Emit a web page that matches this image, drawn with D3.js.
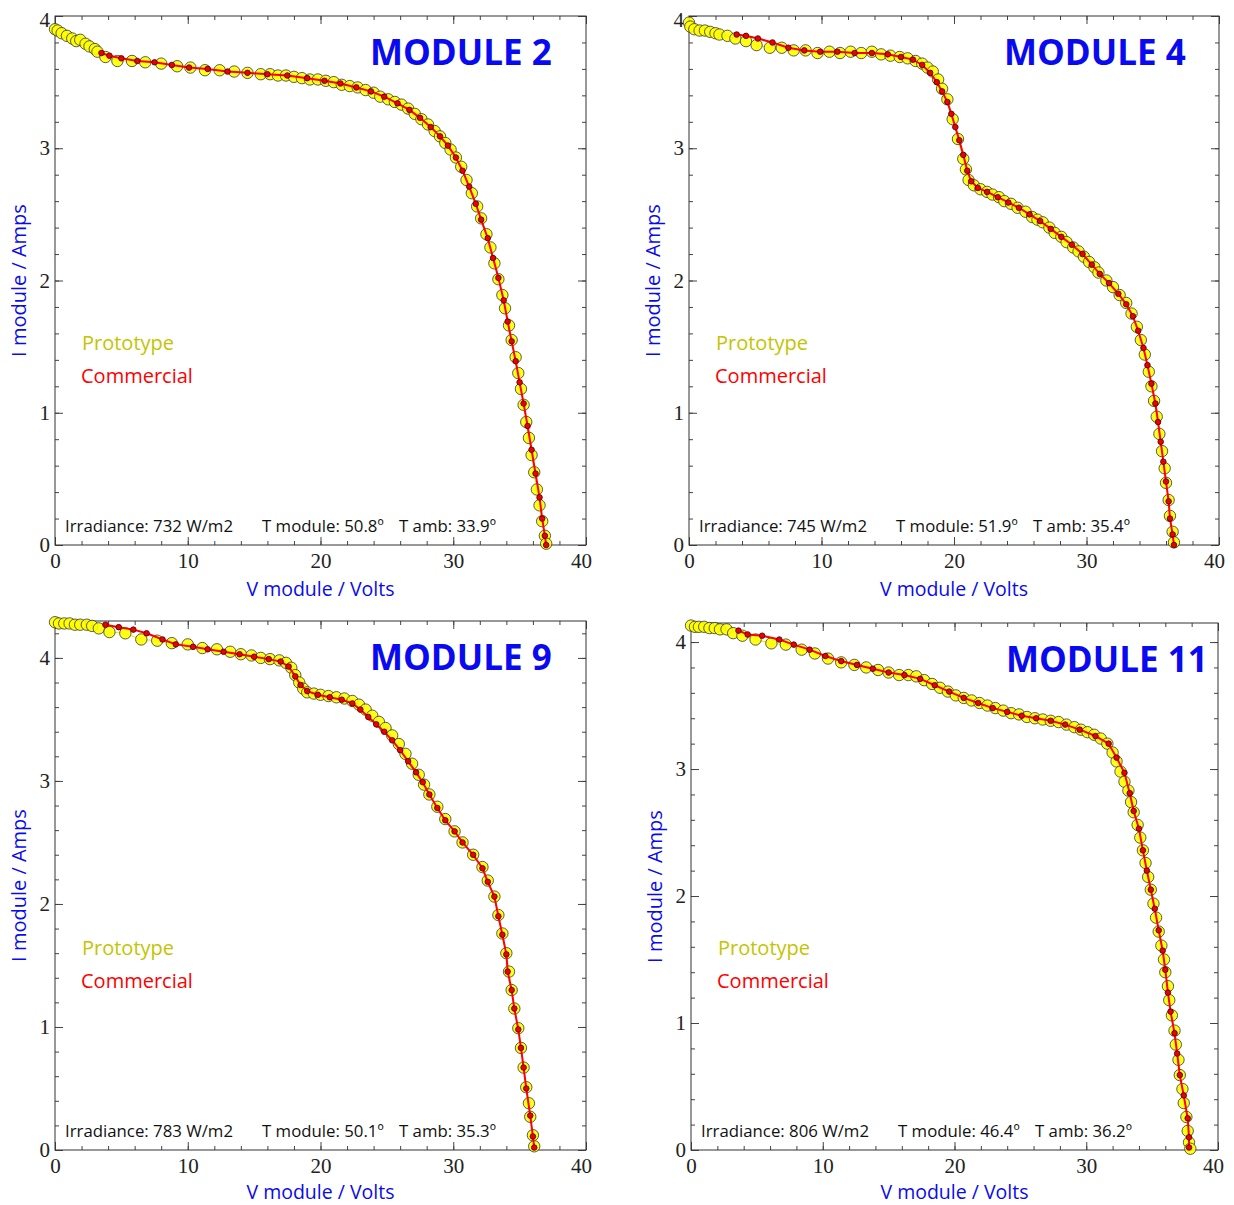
<!DOCTYPE html>
<html><head><meta charset="utf-8">
<script src="https://cdn.jsdelivr.net/npm/d3@7"></script>
<style>
html,body{margin:0;padding:0;background:#fff;}
svg{display:block;}
</style></head>
<body>
<svg id="chart" width="1234" height="1205"></svg>
<script>
// ---------------- DATA ----------------
const moduleTitles = ["MODULE 2", "MODULE 4", "MODULE 9", "MODULE 11"];
const yDomainMax = [4.0, 4.0, 4.3, 4.15];
const xDomain = [0, 40];
const xMajorTicks = [0, 10, 20, 30, 40];
const legendLabels = ["Prototype", "Commercial"];
const xAxisTitle = "V module / Volts";
const yAxisTitle = "I module / Amps";

const m2Info = ["Irradiance: 732 W/m2", "T module: 50.8º", "T amb: 33.9º"];
const m4Info = ["Irradiance: 745 W/m2", "T module: 51.9º", "T amb: 35.4º"];
const m9Info = ["Irradiance: 783 W/m2", "T module: 50.1º", "T amb: 35.3º"];
const m11Info = ["Irradiance: 806 W/m2", "T module: 46.4º", "T amb: 36.2º"];

const m2Prototype = [[0.0,3.90],[0.2,3.89],[0.5,3.87],[0.9,3.85],[1.3,3.83],[1.6,3.81],[1.9,3.82],[2.3,3.79],[2.6,3.77],[3.0,3.75],[3.2,3.73],[3.8,3.69],[4.7,3.66],[5.8,3.66],[6.8,3.65],[8.0,3.64],[9.2,3.62],[10.2,3.61],[11.3,3.59],[12.4,3.59],[13.5,3.58],[14.5,3.57],[15.5,3.56],[16.2,3.56],[16.8,3.55],[17.4,3.55],[18.0,3.54],[18.6,3.53],[19.2,3.52],[19.8,3.52],[20.4,3.51],[21.0,3.50],[21.6,3.48],[22.2,3.47],[22.8,3.46],[23.4,3.44],[24.0,3.42],[24.5,3.39],[25.1,3.37],[25.6,3.35],[26.1,3.33],[26.6,3.30],[27.1,3.26],[27.6,3.22],[28.1,3.18],[28.6,3.13],[29.0,3.09],[29.4,3.04],[29.8,2.99],[30.2,2.93],[30.6,2.86],[31.0,2.76],[31.4,2.66],[31.8,2.56],[32.1,2.47],[32.5,2.35],[32.8,2.25],[33.1,2.13],[33.4,2.01],[33.7,1.89],[33.9,1.79],[34.2,1.66],[34.4,1.55],[34.7,1.42],[34.9,1.30],[35.1,1.18],[35.3,1.06],[35.5,0.93],[35.7,0.81],[35.9,0.68],[36.1,0.55],[36.3,0.42],[36.5,0.30],[36.7,0.18],[36.9,0.07],[37.0,0.01]];
const m2Commercial = [[3.5,3.72],[4.1,3.70],[5.0,3.68],[6.2,3.66],[7.5,3.65],[8.8,3.63],[10.1,3.61],[11.5,3.60],[13.0,3.58],[14.5,3.57],[16.0,3.56],[17.5,3.55],[19.0,3.53],[20.3,3.51],[21.5,3.49],[22.7,3.46],[23.8,3.43],[24.8,3.39],[25.8,3.34],[26.7,3.29],[27.5,3.23],[28.3,3.16],[29.0,3.09],[29.6,3.02],[30.2,2.93],[30.7,2.83],[31.2,2.71],[31.7,2.58],[32.1,2.46],[32.6,2.32],[33.0,2.17],[33.4,2.02],[33.8,1.85],[34.1,1.69],[34.4,1.54],[34.7,1.39],[35.0,1.23],[35.3,1.07],[35.6,0.90],[35.9,0.72],[36.2,0.54],[36.5,0.36],[36.7,0.20],[36.9,0.07],[37.0,0.0]];

const m4Prototype = [[0.0,3.95],[0.1,3.92],[0.4,3.90],[0.8,3.89],[1.2,3.89],[1.6,3.88],[2.0,3.87],[2.3,3.86],[2.9,3.85],[3.5,3.83],[4.3,3.81],[5.1,3.78],[6.1,3.76],[7.0,3.76],[7.9,3.74],[8.8,3.74],[9.7,3.72],[10.6,3.73],[11.4,3.72],[12.2,3.73],[13.0,3.72],[13.8,3.73],[14.5,3.71],[15.2,3.70],[15.9,3.69],[16.5,3.68],[17.1,3.66],[17.6,3.64],[18.0,3.61],[18.4,3.58],[18.8,3.52],[19.1,3.45],[19.5,3.37],[19.9,3.22],[20.3,3.07],[20.7,2.92],[20.9,2.84],[21.1,2.76],[21.5,2.72],[22.0,2.69],[22.5,2.67],[22.9,2.65],[23.4,2.63],[23.8,2.60],[24.3,2.58],[24.8,2.55],[25.4,2.52],[25.9,2.48],[26.3,2.46],[26.7,2.44],[27.2,2.40],[27.6,2.36],[28.1,2.33],[28.5,2.29],[29.0,2.25],[29.4,2.22],[29.8,2.18],[30.2,2.14],[30.6,2.10],[30.9,2.06],[31.5,2.00],[32.0,1.95],[32.5,1.89],[33.0,1.83],[33.4,1.75],[33.8,1.65],[34.1,1.55],[34.4,1.44],[34.7,1.31],[34.9,1.20],[35.1,1.09],[35.3,0.97],[35.5,0.84],[35.7,0.71],[35.9,0.58],[36.0,0.47],[36.2,0.34],[36.3,0.22],[36.5,0.10],[36.6,0.02]];
const m4Commercial = [[3.6,3.86],[4.3,3.85],[5.2,3.83],[6.3,3.80],[7.5,3.76],[8.7,3.74],[9.9,3.73],[11.2,3.73],[12.5,3.72],[13.8,3.72],[15.0,3.71],[16.0,3.69],[16.9,3.67],[17.6,3.63],[18.2,3.57],[18.7,3.50],[19.1,3.43],[19.5,3.35],[19.8,3.26],[20.1,3.16],[20.4,3.06],[20.7,2.95],[21.0,2.83],[21.3,2.75],[21.8,2.70],[22.5,2.67],[23.3,2.63],[24.1,2.59],[24.9,2.55],[25.7,2.50],[26.5,2.45],[27.3,2.39],[28.1,2.33],[28.9,2.27],[29.7,2.20],[30.4,2.12],[31.0,2.05],[31.7,1.98],[32.4,1.90],[33.0,1.82],[33.5,1.73],[33.9,1.62],[34.3,1.49],[34.6,1.36],[34.9,1.22],[35.2,1.07],[35.4,0.93],[35.6,0.78],[35.8,0.63],[36.0,0.48],[36.2,0.33],[36.3,0.20],[36.5,0.08],[36.6,0.0]];

const m9Prototype = [[0.0,4.29],[0.3,4.28],[0.7,4.28],[1.1,4.28],[1.5,4.27],[1.9,4.27],[2.4,4.27],[2.8,4.26],[3.3,4.24],[4.1,4.21],[5.3,4.20],[6.5,4.15],[7.7,4.14],[8.8,4.12],[10.0,4.11],[11.1,4.08],[12.2,4.07],[13.2,4.05],[14.0,4.03],[14.8,4.02],[15.5,4.00],[16.2,3.99],[16.9,3.98],[17.4,3.96],[17.8,3.92],[18.1,3.86],[18.4,3.80],[18.7,3.75],[19.0,3.72],[19.5,3.71],[20.0,3.70],[20.6,3.69],[21.2,3.68],[21.8,3.67],[22.4,3.65],[22.9,3.62],[23.4,3.58],[23.9,3.53],[24.4,3.48],[24.9,3.43],[25.4,3.37],[25.9,3.30],[26.4,3.22],[26.9,3.14],[27.4,3.05],[27.8,2.97],[28.2,2.89],[28.8,2.79],[29.4,2.69],[30.1,2.59],[30.7,2.50],[31.5,2.40],[32.2,2.30],[32.6,2.19],[33.1,2.06],[33.4,1.91],[33.7,1.76],[34.0,1.60],[34.2,1.45],[34.4,1.30],[34.6,1.15],[34.9,0.99],[35.1,0.83],[35.3,0.67],[35.5,0.51],[35.7,0.38],[35.8,0.27],[36.0,0.12],[36.1,0.03]];
const m9Commercial = [[3.8,4.27],[4.8,4.25],[5.9,4.23],[6.9,4.20],[8.1,4.15],[9.1,4.11],[10.4,4.09],[11.5,4.07],[12.7,4.05],[13.9,4.03],[15.0,4.01],[16.1,3.99],[17.0,3.97],[17.6,3.93],[18.1,3.85],[18.5,3.78],[19.0,3.73],[19.8,3.70],[20.7,3.68],[21.6,3.66],[22.4,3.63],[23.0,3.58],[23.6,3.52],[24.2,3.46],[24.8,3.40],[25.4,3.33],[26.0,3.25],[26.6,3.16],[27.2,3.07],[27.7,2.99],[28.2,2.89],[28.8,2.78],[29.4,2.68],[30.1,2.59],[30.7,2.50],[31.5,2.40],[32.2,2.29],[32.6,2.18],[33.1,2.06],[33.4,1.90],[33.7,1.75],[34.0,1.59],[34.1,1.45],[34.4,1.30],[34.6,1.15],[34.9,0.98],[35.1,0.83],[35.3,0.67],[35.5,0.50],[35.8,0.28],[36.0,0.11],[36.1,0.02]];

const m11Prototype = [[0.0,4.13],[0.3,4.12],[0.6,4.12],[1.0,4.12],[1.4,4.11],[1.8,4.11],[2.2,4.10],[2.7,4.10],[3.2,4.07],[3.9,4.05],[4.9,4.02],[6.1,3.99],[7.2,3.98],[8.4,3.94],[9.4,3.91],[10.4,3.87],[11.4,3.84],[12.4,3.82],[13.3,3.80],[14.2,3.78],[15.0,3.76],[15.8,3.74],[16.5,3.74],[17.1,3.73],[17.7,3.70],[18.3,3.67],[18.9,3.64],[19.5,3.61],[20.1,3.58],[20.7,3.56],[21.3,3.54],[21.9,3.52],[22.5,3.50],[23.1,3.48],[23.7,3.46],[24.3,3.44],[24.9,3.43],[25.5,3.41],[26.1,3.40],[26.7,3.39],[27.3,3.38],[27.9,3.37],[28.5,3.35],[29.1,3.33],[29.6,3.31],[30.1,3.29],[30.6,3.27],[31.1,3.24],[31.6,3.20],[32.0,3.13],[32.3,3.06],[32.6,2.98],[32.9,2.90],[33.2,2.83],[33.4,2.74],[33.6,2.66],[33.9,2.56],[34.1,2.46],[34.3,2.36],[34.5,2.26],[34.7,2.15],[34.9,2.05],[35.1,1.94],[35.3,1.83],[35.5,1.72],[35.7,1.61],[35.9,1.50],[36.0,1.40],[36.2,1.29],[36.3,1.18],[36.5,1.06],[36.7,0.94],[36.8,0.83],[37.0,0.71],[37.1,0.59],[37.3,0.48],[37.4,0.37],[37.6,0.26],[37.7,0.15],[37.8,0.06],[37.9,0.01]];
const m11Commercial = [[3.6,4.09],[4.3,4.06],[5.4,4.05],[6.7,4.02],[7.8,3.98],[9.0,3.94],[10.2,3.89],[11.4,3.85],[12.6,3.82],[13.8,3.79],[15.0,3.76],[16.2,3.74],[17.4,3.71],[18.5,3.66],[19.6,3.61],[20.7,3.56],[21.8,3.52],[22.9,3.48],[24.0,3.45],[25.1,3.42],[26.2,3.40],[27.3,3.38],[28.4,3.35],[29.5,3.31],[30.7,3.26],[31.7,3.20],[32.3,3.09],[32.9,2.97],[33.3,2.81],[33.6,2.67],[34.0,2.53],[34.3,2.36],[34.6,2.20],[34.9,2.05],[35.2,1.90],[35.5,1.73],[35.8,1.57],[36.0,1.42],[36.2,1.24],[36.4,1.09],[36.7,0.92],[36.9,0.76],[37.1,0.59],[37.4,0.43],[37.7,0.25],[37.8,0.10],[37.8,0.02]];

// ---------------- LAYOUT ----------------
const panels = [
  {title: moduleTitles[0], yMax: yDomainMax[0], proto: m2Prototype, comm: m2Commercial, info: m2Info, left: 55, right: 586, top: 16, bottom: 545, xTitleDy: 51},
  {title: moduleTitles[1], yMax: yDomainMax[1], proto: m4Prototype, comm: m4Commercial, info: m4Info, left: 689, right: 1219, top: 16, bottom: 545, xTitleDy: 51},
  {title: moduleTitles[2], yMax: yDomainMax[2], proto: m9Prototype, comm: m9Commercial, info: m9Info, left: 55, right: 586, top: 621, bottom: 1150, xTitleDy: 49},
  {title: moduleTitles[3], yMax: yDomainMax[3], proto: m11Prototype, comm: m11Commercial, info: m11Info, left: 691, right: 1218, top: 623, bottom: 1150, xTitleDy: 49}
];

const BLUE = "#0a0af0";
const SANS = "'Open Sans', 'Noto Sans', sans-serif";
const SERIF = "'Liberation Serif', 'DejaVu Serif', serif";

const svg = d3.select("#chart");

panels.forEach(p => {
  const g = svg.append("g");
  const x = d3.scaleLinear().domain(xDomain).range([p.left, p.right]);
  const y = d3.scaleLinear().domain([0, p.yMax]).range([p.bottom, p.top]);

  const xMinor = d3.range(0, 40.001, 2);
  const yMinor = d3.range(0, p.yMax + 1e-9, 0.2);
  const yMajor = d3.range(0, p.yMax + 1e-9, 1);

  function styleAxis(sel) {
    sel.select(".domain").remove();
    sel.selectAll(".tick line").attr("stroke", "#444").attr("stroke-width", 1);
  }
  // minor ticks
  g.append("g").attr("transform", `translate(0,${p.bottom})`)
    .call(d3.axisBottom(x).tickValues(xMinor).tickSize(-4).tickFormat(""))
    .call(styleAxis);
  g.append("g").attr("transform", `translate(0,${p.top})`)
    .call(d3.axisTop(x).tickValues(xMinor).tickSize(-4).tickFormat(""))
    .call(styleAxis);
  g.append("g").attr("transform", `translate(${p.left},0)`)
    .call(d3.axisLeft(y).tickValues(yMinor).tickSize(-4).tickFormat(""))
    .call(styleAxis);
  g.append("g").attr("transform", `translate(${p.right},0)`)
    .call(d3.axisRight(y).tickValues(yMinor).tickSize(-4).tickFormat(""))
    .call(styleAxis);
  // major ticks
  const xb = g.append("g").attr("transform", `translate(0,${p.bottom})`)
    .call(d3.axisBottom(x).tickValues(xMajorTicks).tickSize(-8).tickPadding(8).tickFormat(d3.format("d")))
    .call(styleAxis);
  g.append("g").attr("transform", `translate(0,${p.top})`)
    .call(d3.axisTop(x).tickValues(xMajorTicks).tickSize(-8).tickFormat(""))
    .call(styleAxis);
  const yl = g.append("g").attr("transform", `translate(${p.left},0)`)
    .call(d3.axisLeft(y).tickValues(yMajor).tickSize(-8).tickPadding(5).tickFormat(d3.format("d")))
    .call(styleAxis);
  g.append("g").attr("transform", `translate(${p.right},0)`)
    .call(d3.axisRight(y).tickValues(yMajor).tickSize(-8).tickFormat(""))
    .call(styleAxis);
  [xb, yl].forEach(a => a.selectAll("text")
    .attr("font-family", SERIF).attr("font-size", 21).attr("fill", "#222"));
  // nudge edge labels inward as in the original
  xb.selectAll(".tick text").filter(d => d === xDomain[1]).attr("dx", "-5");
  yl.selectAll(".tick text").filter(d => Math.abs(y(d) - p.top) < 6).attr("dy", "0.5em");

  // frame
  g.append("rect").attr("x", p.left).attr("y", p.top)
    .attr("width", p.right - p.left).attr("height", p.bottom - p.top)
    .attr("fill", "none").attr("stroke", "#333").attr("stroke-width", 1);

  const line = d3.line().x(d => x(d[0])).y(d => y(d[1]));

  // prototype series
  g.append("path").datum(p.proto).attr("d", line)
    .attr("fill", "none").attr("stroke", "#e6e600").attr("stroke-width", 1);
  g.append("g").selectAll("circle").data(p.proto).join("circle")
    .attr("cx", d => x(d[0])).attr("cy", d => y(d[1])).attr("r", 5.7)
    .attr("fill", "#ffff00").attr("fill-opacity", 0.9)
    .attr("stroke", "#333").attr("stroke-width", 0.8);

  // commercial series
  g.append("path").datum(p.comm).attr("d", line)
    .attr("fill", "none").attr("stroke", "#ff0000").attr("stroke-width", 2);
  g.append("g").selectAll("circle").data(p.comm).join("circle")
    .attr("cx", d => x(d[0])).attr("cy", d => y(d[1])).attr("r", 2.8)
    .attr("fill", "#ee0000").attr("stroke", "#400").attr("stroke-width", 0.8);

  // title
  g.append("text").attr("x", p.left + 315).attr("y", p.top + 49)
    .attr("font-family", SANS).attr("font-weight", 700).attr("font-size", 35)
    .attr("fill", BLUE).text(p.title);

  // legend
  g.append("text").attr("x", p.left + 27).attr("y", p.bottom - 195)
    .attr("font-family", SANS).attr("font-weight", 500).attr("font-size", 20).attr("fill", "#c4c400").text(legendLabels[0]);
  g.append("text").attr("x", p.left + 26).attr("y", p.bottom - 162)
    .attr("font-family", SANS).attr("font-weight", 500).attr("font-size", 20).attr("fill", "#ff0000").text(legendLabels[1]);

  // info
  const infoX = [10, 207, 344];
  p.info.forEach((t, i) => {
    g.append("text").attr("x", p.left + infoX[i]).attr("y", p.bottom - 13)
      .attr("font-family", SANS).attr("font-weight", 500).attr("font-size", 16.8).attr("fill", "#111").text(t);
  });

  // axis titles
  g.append("text").attr("x", (p.left + p.right) / 2).attr("y", p.bottom + p.xTitleDy)
    .attr("text-anchor", "middle").attr("font-family", SANS).attr("font-weight", 500).attr("font-size", 19.5)
    .attr("fill", BLUE).text(xAxisTitle);
  g.append("text")
    .attr("transform", `translate(${p.left - 29},${(p.top + p.bottom) / 2}) rotate(-90)`)
    .attr("text-anchor", "middle").attr("font-family", SANS).attr("font-weight", 500).attr("font-size", 20)
    .attr("fill", BLUE).text(yAxisTitle);
});
</script>
</body></html>
